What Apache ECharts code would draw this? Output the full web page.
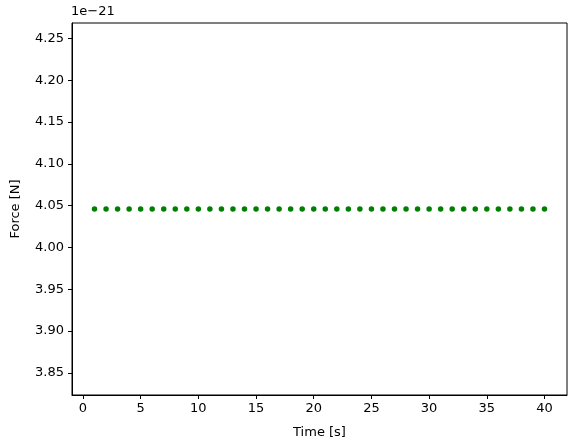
<!DOCTYPE html>
<html>
<head>
<meta charset="utf-8">
<script src="https://cdn.jsdelivr.net/npm/echarts@6/dist/echarts.min.js"></script>
<style>
  html, body { margin: 0; padding: 0; background: #fff; }
  #chart { width: 576px; height: 448px; }
</style>
</head>
<body>
<div id="chart"></div>
<script>
// time in seconds
var times = [];
for (var t = 1; t <= 40; t++) times.push(t);
// force values in units of 1e-21 N (flat line)
var forces = [
  4.046, 4.046, 4.046, 4.046, 4.046, 4.046, 4.046, 4.046, 4.046, 4.046,
  4.046, 4.046, 4.046, 4.046, 4.046, 4.046, 4.046, 4.046, 4.046, 4.046,
  4.046, 4.046, 4.046, 4.046, 4.046, 4.046, 4.046, 4.046, 4.046, 4.046,
  4.046, 4.046, 4.046, 4.046, 4.046, 4.046, 4.046, 4.046, 4.046, 4.046
];
var offsetText = '1e\u221221';

var points = times.map(function (x, i) { return [x, forces[i]]; });

var chart = echarts.init(document.getElementById('chart'), null, { renderer: 'canvas' });
var font = 'DejaVu Sans';

chart.setOption({
  animation: false,
  backgroundColor: '#fff',
  grid: {
    left: 72, right: 9, top: 23, bottom: 53,
    show: true, borderColor: '#000', borderWidth: 1, backgroundColor: 'transparent'
  },
  graphic: [{
    type: 'text', left: 71, top: 5,
    style: { text: offsetText, font: '13px "DejaVu Sans"', fill: '#000' }
  }],
  xAxis: {
    type: 'value',
    min: -0.95, max: 41.95,
    splitNumber: 8,
    name: 'Time [s]',
    nameLocation: 'middle',
    nameGap: 31,
    nameTextStyle: { fontFamily: font, fontSize: 13, color: '#000' },
    axisLine: { show: true, onZero: false, lineStyle: { color: '#000', width: 1 } },
    axisTick: { show: true, inside: false, length: 4, lineStyle: { color: '#000' } },
    axisLabel: {
      fontFamily: font, fontSize: 13, color: '#000', margin: 7,
      showMinLabel: false, showMaxLabel: false
    },
    splitLine: { show: false }
  },
  yAxis: {
    type: 'value',
    min: 3.8235, max: 4.2685,
    splitNumber: 9,
    name: 'Force [N]',
    nameLocation: 'middle',
    nameGap: 50,
    nameTextStyle: { fontFamily: font, fontSize: 13, color: '#000' },
    axisLine: { show: true, onZero: false, lineStyle: { color: '#000', width: 1 } },
    axisTick: { show: true, inside: false, length: 4, lineStyle: { color: '#000' } },
    axisLabel: {
      fontFamily: font, fontSize: 13, color: '#000', margin: 8,
      showMinLabel: false, showMaxLabel: false,
      formatter: function (v) { return v.toFixed(2); }
    },
    splitLine: { show: false }
  },
  series: [{
    type: 'scatter',
    data: points,
    symbol: 'circle',
    symbolSize: 5.5,
    itemStyle: { color: '#008000', opacity: 1 }
  }]
});
</script>
</body>
</html>
